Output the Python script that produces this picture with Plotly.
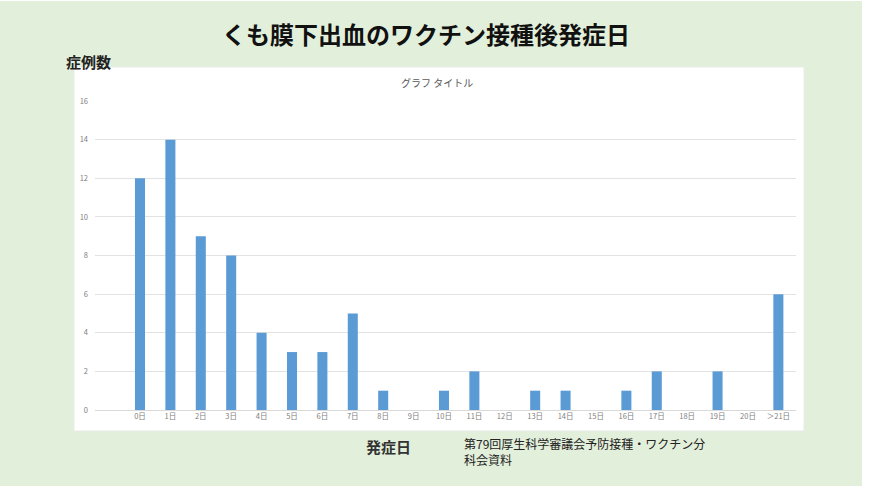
import plotly.graph_objects as go

W, H = 872, 490

categories = ["0日", "1日", "2日", "3日", "4日", "5日", "6日", "7日", "8日", "9日", "10日",
              "11日", "12日", "13日", "14日", "15日", "16日", "17日", "18日", "19日", "20日", "＞21日"]
cases = [12, 14, 9, 8, 4, 3, 3, 5, 1, 0, 1, 2, 0, 1, 1, 0, 1, 2, 0, 2, 0, 6]
y_ticks = [0, 2, 4, 6, 8, 10, 12, 14, 16]

FONT = "Noto Sans CJK JP"

def px(x):
    return x / W

def py(y):
    return (H - y) / H

fig = go.Figure()
fig.add_trace(go.Bar(
    x=list(range(len(categories))), y=cases,
    marker=dict(color="#5b9bd5", line=dict(width=0)),
    width=0.33,
    hoverinfo="skip",
))

fig.update_layout(
    width=W, height=H,
    margin=dict(l=0, r=0, t=0, b=0),
    paper_bgcolor="white",
    plot_bgcolor="rgba(0,0,0,0)",
    showlegend=False,
    font=dict(family=FONT),
    xaxis=dict(
        domain=[px(95), px(796)],
        range=[-1.48, 21.58],
        tickmode="array",
        tickvals=list(range(len(categories))),
        ticktext=categories,
        tickfont=dict(size=7.5, color="#808080", family=FONT),
        showgrid=False, zeroline=False,
        showline=False, ticks="",
        automargin=False,
    ),
    yaxis=dict(
        domain=[py(410), py(101)],
        range=[0, 16],
        tickmode="array",
        tickvals=y_ticks,
        tickfont=dict(size=7.5, color="#808080", family=FONT),
        showgrid=True, gridcolor="#e3e3e3", gridwidth=1,
        zeroline=True, zerolinecolor="#d9d9d9", zerolinewidth=1,
        showline=False, ticks="", ticklabelstandoff=6,
        automargin=False,
    ),
    shapes=[
        dict(type="rect", xref="paper", yref="paper",
             x0=0, x1=px(862), y0=py(486), y1=py(1),
             fillcolor="#e2efda", line=dict(width=0), layer="below"),
        dict(type="rect", xref="paper", yref="paper",
             x0=px(74), x1=px(804), y0=py(431), y1=py(67),
             fillcolor="white", line=dict(color="#e8ece6", width=1), layer="below"),
    ],
    annotations=[
        dict(text="<b>くも膜下出血のワクチン接種後発症日</b>", xref="paper", yref="paper",
             x=px(426), y=py(33), xanchor="center", yanchor="middle", showarrow=False,
             font=dict(size=24, color="#111111", family=FONT)),
        dict(text="<b>症例数</b>", xref="paper", yref="paper",
             x=px(64), y=py(62), xanchor="left", yanchor="middle", showarrow=False,
             font=dict(size=15, color="#222222", family=FONT)),
        dict(text="グラフ タイトル", xref="paper", yref="paper",
             x=px(437), y=py(82), xanchor="center", yanchor="middle", showarrow=False,
             font=dict(size=10, color="#595959", family=FONT)),
        dict(text="<b>発症日</b>", xref="paper", yref="paper",
             x=px(364), y=py(446), xanchor="left", yanchor="middle", showarrow=False,
             font=dict(size=15, color="#333333", family=FONT)),
        dict(text="第79回厚生科学審議会予防接種・ワクチン分<br>科会資料", xref="paper", yref="paper",
             x=px(462), y=py(451), xanchor="left", yanchor="middle", align="left",
             showarrow=False,
             font=dict(size=12, color="#222222", family=FONT)),
    ],
)

fig.write_html("out.html",
               config={"displayModeBar": False},
               post_script="document.body.style.margin='0';document.body.style.overflow='hidden';")
